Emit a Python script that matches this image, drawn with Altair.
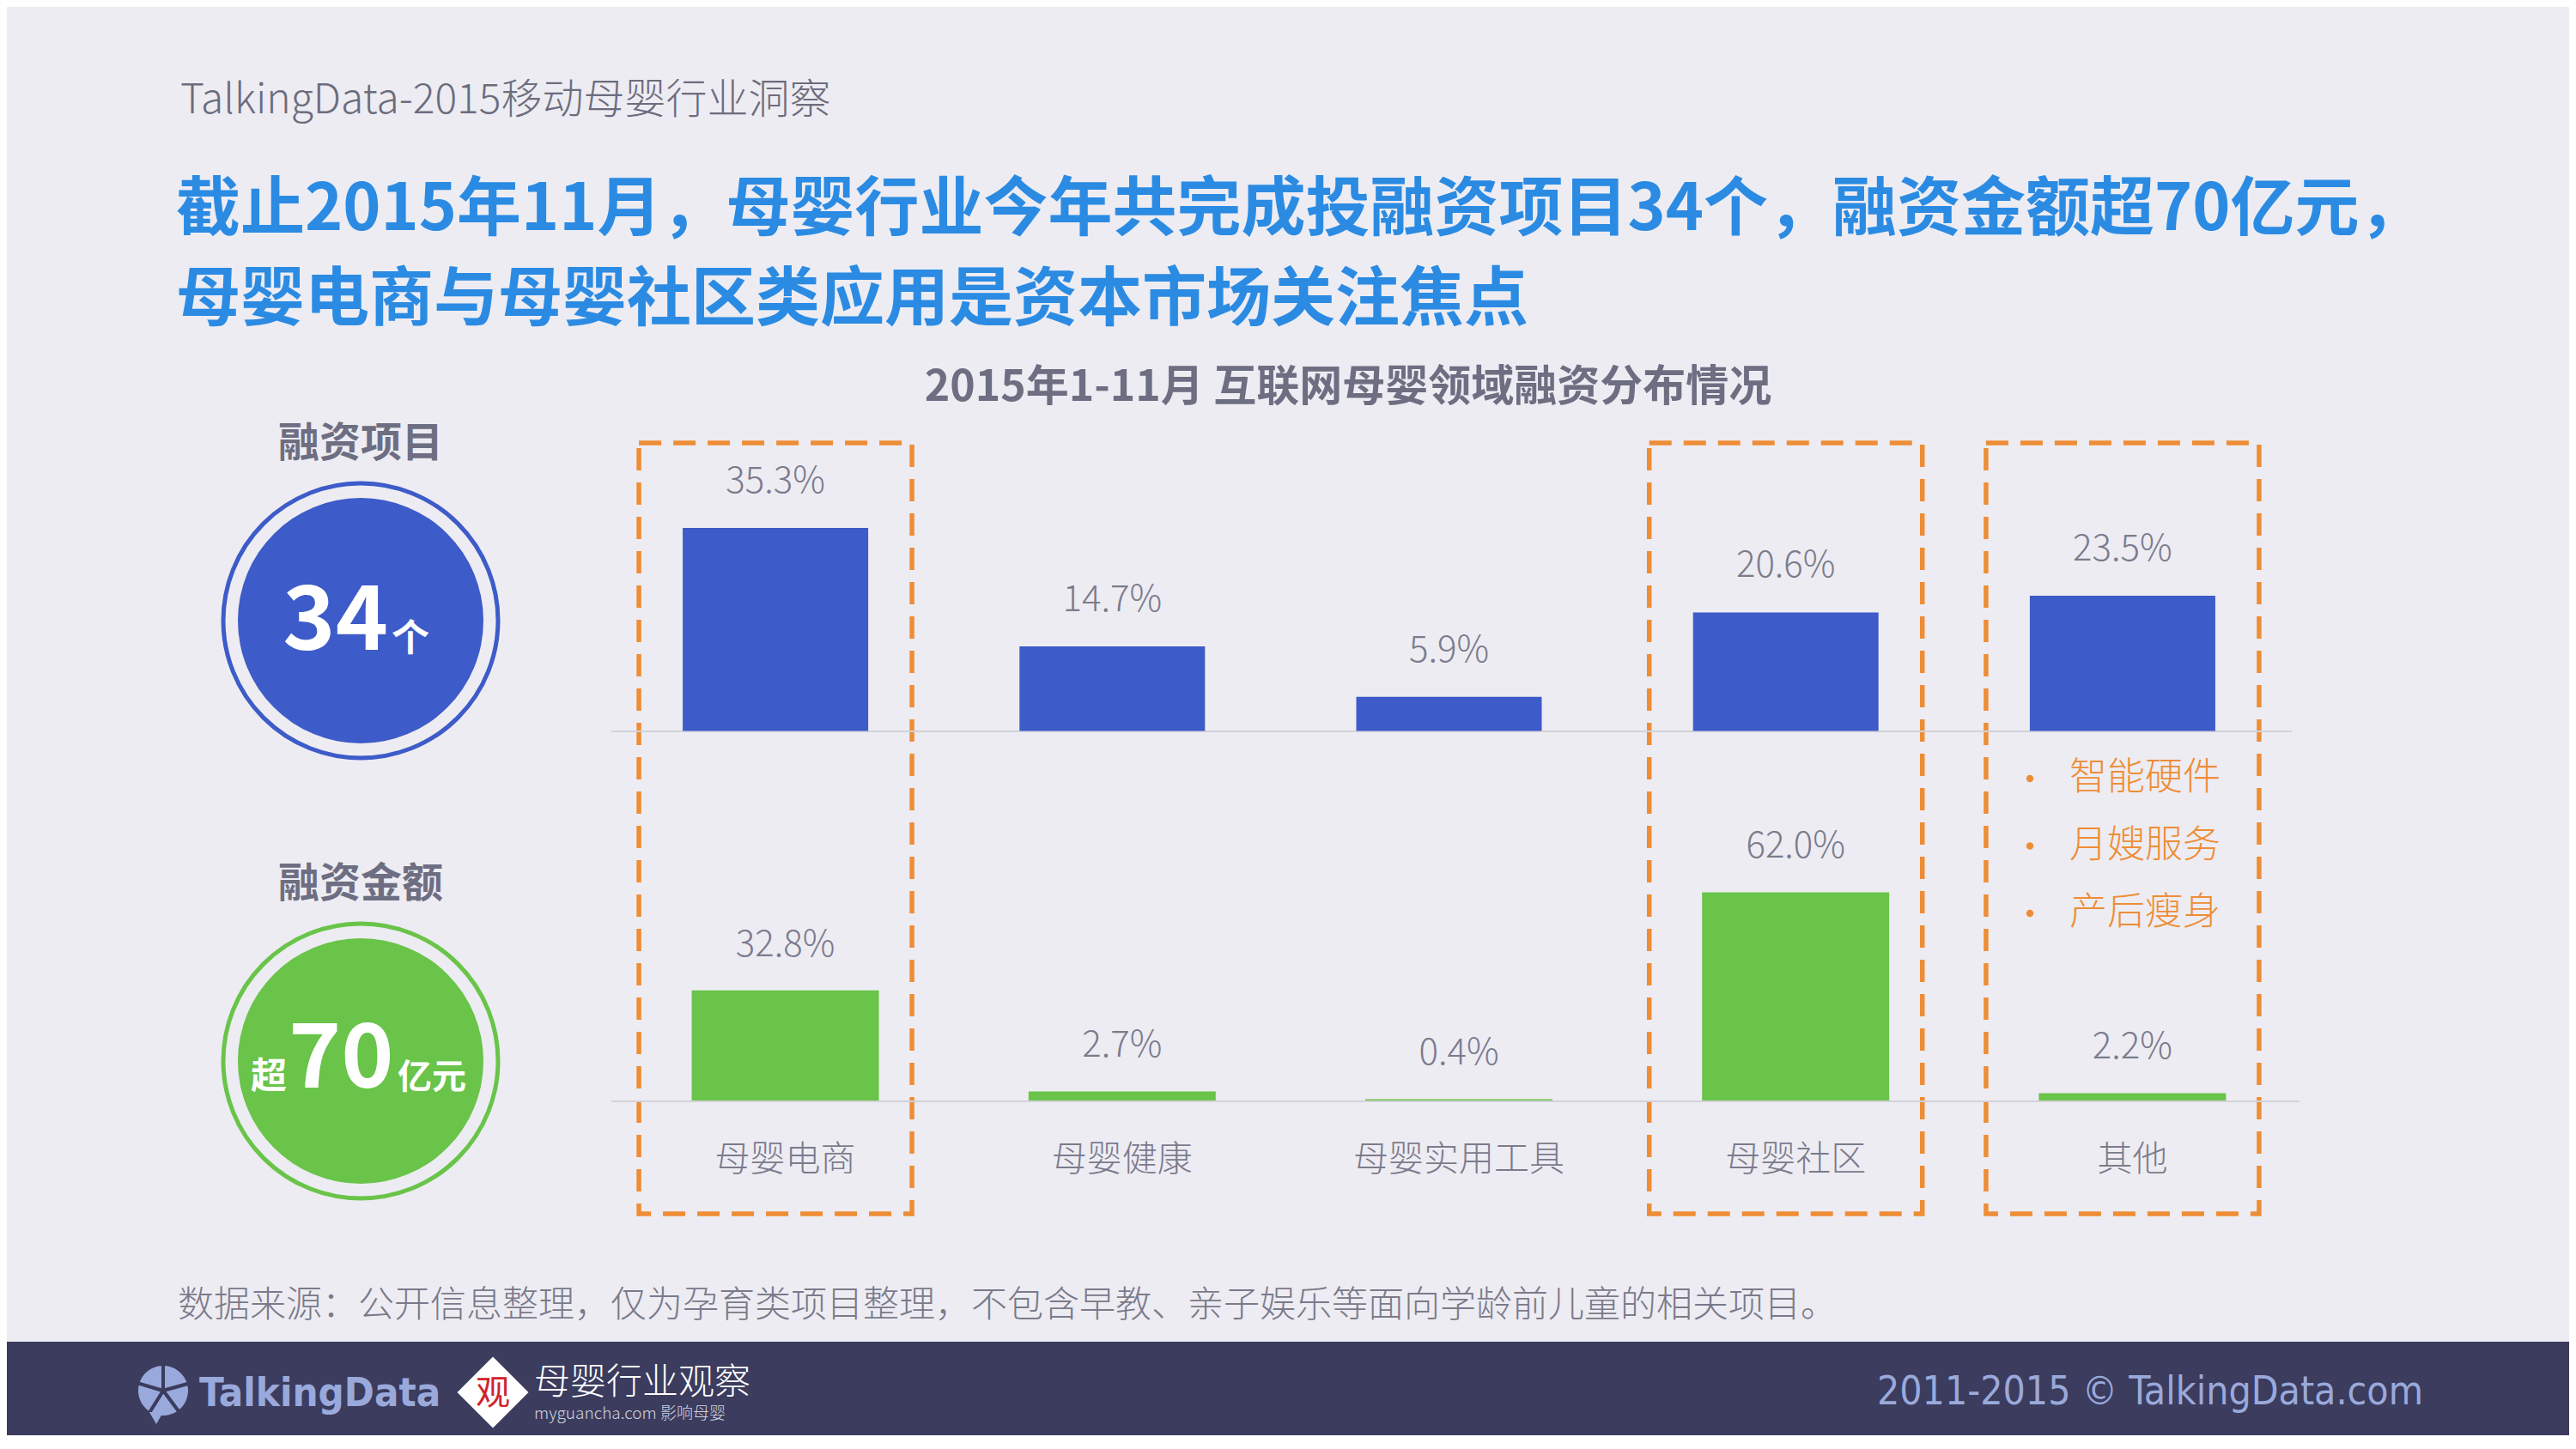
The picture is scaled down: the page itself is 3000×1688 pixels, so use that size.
import altair as alt
import pandas as pd

# ---------------- data ----------------
CATEGORIES = ["母婴电商", "母婴健康", "母婴实用工具", "母婴社区", "其他"]
PROJECT_SHARE = [35.3, 14.7, 5.9, 20.6, 23.5]   # 融资项目占比 (%)
AMOUNT_SHARE = [32.8, 2.7, 0.4, 62.0, 2.2]      # 融资金额占比 (%)
HIGHLIGHT = ["母婴电商", "母婴社区", "其他"]
OTHER_ITEMS = ["智能硬件", "月嫂服务", "产后瘦身"]
KPI_LABELS = ["融资项目", "融资金额"]
KPI_PREFIX = ["", "超"]
KPI_NUMBERS = ["34", "70"]
KPI_UNITS = ["个", "亿元"]
HEADER = "TalkingData-2015移动母婴行业洞察"
TITLE_LINES = ["截止2015年11月，母婴行业今年共完成投融资项目34个，融资金额超70亿元，",
               "母婴电商与母婴社区类应用是资本市场关注焦点"]
SUBTITLE = "2015年1-11月 互联网母婴领域融资分布情况"
SOURCE = "数据来源：公开信息整理，仅为孕育类项目整理，不包含早教、亲子娱乐等面向学龄前儿童的相关项目。"
FOOTER_RIGHT = "2011-2015 © TalkingData.com"
LOGO_TEXT = "TalkingData"
PARTNER_NAME = "母婴行业观察"
PARTNER_SUB = "myguancha.com 影响母婴"
PARTNER_MARK = "观"

# ---------------- style ----------------
BG = "#EDECF2"
BLUE = "#3D5BC9"
GREEN = "#69C449"
ORANGE = "#EE8D36"
TITLE_BLUE = "#2B8BE3"
GRAY = "#6E6E82"
LABEL_GRAY = "#7B7B8D"
FOOT = "#3B3C5E"
FOOT_TEXT = "#9AA9DB"
FONT = "Noto Sans CJK SC"
NARROW = "Liberation Sans Narrow, DejaVu Sans Condensed, Liberation Sans, sans-serif"

OFF = 8
W, H = 2984, 1664


def P(v):
    return v - OFF


def text_layer(txt, x, y, size, color, weight="normal", align="left",
               baseline="middle", font=FONT):
    return alt.Chart(pd.DataFrame({"t": [txt]})).mark_text(
        align=align, baseline=baseline, fontSize=size, color=color,
        fontWeight=weight, font=font
    ).encode(x=alt.value(P(x)), y=alt.value(P(y)), text="t:N")


one = pd.DataFrame({"k": [0]})
bars = pd.DataFrame({"cat": CATEGORIES, "proj": PROJECT_SHARE, "amt": AMOUNT_SHARE})

xscale = alt.Scale(domain=CATEGORIES, range=[P(707), P(2668)],
                   paddingInner=0.4467, paddingOuter=0.2233)
yb = alt.Scale(domain=[0, 40], range=[P(851.4), P(851.4 - 268)], nice=False)
yg = alt.Scale(domain=[0, 70], range=[P(1282), P(1282 - 273.9)], nice=False)
X = alt.X("cat:N", scale=xscale, axis=None)

layers = []

# footer band
layers.append(alt.Chart(one).mark_rect(color=FOOT).encode(
    x=alt.value(-10), x2=alt.value(W + 10), y=alt.value(P(1563)), y2=alt.value(H + 20)))

# dashed highlight boxes
layers.append(alt.Chart(pd.DataFrame({"cat": HIGHLIGHT})).mark_bar(
    width=318, fill="transparent", stroke=ORANGE, strokeWidth=5.5, strokeDash=[26, 14]
).encode(x=X, y=alt.value(P(516)), y2=alt.value(P(1414))))

# baselines
layers.append(alt.Chart(one).mark_rule(color="#D2D2DA", strokeWidth=2).encode(
    x=alt.value(P(712)), x2=alt.value(P(2669)), y=alt.value(P(852))))
layers.append(alt.Chart(one).mark_rule(color="#D2D2DA", strokeWidth=2).encode(
    x=alt.value(P(712)), x2=alt.value(P(2678)), y=alt.value(P(1283))))

# bars
layers.append(alt.Chart(bars).mark_bar(color=BLUE, width=216).encode(
    x=X, y=alt.Y("proj:Q", scale=yb, axis=None)))
layers.append(alt.Chart(bars).mark_bar(color=GREEN, width=218, xOffset=11.5).encode(
    x=X, y=alt.Y("amt:Q", scale=yg, axis=None)))

# value labels
layers.append(alt.Chart(bars).transform_calculate(
    lab="format(datum.proj, '.1f') + '%'"
).mark_text(dy=-54, baseline="middle", fontSize=42, color=LABEL_GRAY, font=FONT,
            fontWeight=300).encode(
    x=X, y=alt.Y("proj:Q", scale=yb, axis=None), text="lab:N"))
layers.append(alt.Chart(bars).transform_calculate(
    lab="format(datum.amt, '.1f') + '%'"
).mark_text(dy=-53, dx=11.5, baseline="middle", fontSize=42, color=LABEL_GRAY,
            font=FONT, fontWeight=300).encode(
    x=X, y=alt.Y("amt:Q", scale=yg, axis=None), text="lab:N"))

# category labels
layers.append(alt.Chart(bars).mark_text(
    dx=11.5, baseline="middle", fontSize=41, color=LABEL_GRAY, font=FONT, fontWeight=300
).encode(x=X, y=alt.value(P(1352)), text="cat:N"))

# bullet list for 其他
items = pd.DataFrame({"item": OTHER_ITEMS})
iy = alt.Y("item:N", axis=None,
           scale=alt.Scale(type="point", domain=OTHER_ITEMS, range=[P(907), P(1064)], padding=0))
layers.append(alt.Chart(items).mark_circle(size=70, color=ORANGE, opacity=1).encode(
    x=alt.value(P(2364)), y=iy))
layers.append(alt.Chart(items).mark_text(
    align="left", baseline="middle", fontSize=44, color=ORANGE, font=FONT, fontWeight=300
).encode(x=alt.value(P(2410)), y=iy, text="item:N"))

# KPI circles
kpi = pd.DataFrame({"label": KPI_LABELS, "prefix": KPI_PREFIX,
                    "num": KPI_NUMBERS, "unit": KPI_UNITS})
ky = alt.Y("label:N", axis=None,
           scale=alt.Scale(type="point", domain=KPI_LABELS, range=[P(723), P(1236)], padding=0))
kc = alt.Color("label:N", legend=None,
               scale=alt.Scale(domain=KPI_LABELS, range=[BLUE, GREEN]))
layers.append(alt.Chart(kpi).mark_point(
    shape="circle", filled=False, size=320 ** 2, strokeWidth=5, opacity=1
).encode(x=alt.value(P(420)), y=ky, color=kc))
layers.append(alt.Chart(kpi).mark_circle(size=286 ** 2, opacity=1).encode(
    x=alt.value(P(420)), y=ky, color=kc))
layers.append(alt.Chart(kpi).mark_text(
    dy=-205, baseline="middle", fontSize=48, fontWeight="bold", color=GRAY, font=FONT
).encode(x=alt.value(P(420)), y=ky, text="label:N"))

blue_k = alt.datum.label == KPI_LABELS[0]
green_k = alt.datum.label == KPI_LABELS[1]
layers.append(alt.Chart(kpi).transform_filter(blue_k).mark_text(
    align="right", baseline="alphabetic", dy=34, fontSize=104, fontWeight="bold",
    color="white", font=FONT).encode(x=alt.value(P(452)), y=ky, text="num:N"))
layers.append(alt.Chart(kpi).transform_filter(blue_k).mark_text(
    align="left", baseline="alphabetic", dy=36, fontSize=44, fontWeight="bold",
    color="white", font=FONT).encode(x=alt.value(P(456)), y=ky, text="unit:N"))
layers.append(alt.Chart(kpi).transform_filter(green_k).mark_text(
    align="left", baseline="alphabetic", dy=32, fontSize=42, fontWeight="bold",
    color="white", font=FONT).encode(x=alt.value(P(292)), y=ky, text="prefix:N"))
layers.append(alt.Chart(kpi).transform_filter(green_k).mark_text(
    align="left", baseline="alphabetic", dy=31, fontSize=104, fontWeight="bold",
    color="white", font=FONT).encode(x=alt.value(P(336)), y=ky, text="num:N"))
layers.append(alt.Chart(kpi).transform_filter(green_k).mark_text(
    align="left", baseline="alphabetic", dy=32, fontSize=40, fontWeight="bold",
    color="white", font=FONT).encode(x=alt.value(P(463)), y=ky, text="unit:N"))

# titles
titles = pd.DataFrame({"line": TITLE_LINES})
layers.append(alt.Chart(titles).mark_text(
    align="left", baseline="middle", fontSize=75, fontWeight="bold",
    color=TITLE_BLUE, font=FONT
).encode(x=alt.value(P(205)), text="line:N",
         y=alt.Y("line:N", axis=None,
                 scale=alt.Scale(type="point", domain=TITLE_LINES,
                                 range=[P(245), P(350)], padding=0))))
layers.append(text_layer(HEADER, 210, 118, 48, "#6C6C7E", weight=300))
layers.append(text_layer(SUBTITLE, 1570, 452, 50, GRAY, weight="bold", align="center"))
layers.append(text_layer(SOURCE, 207, 1521, 42, "#7A7A8A", weight=300))

# footer: TalkingData icon (pie-like bubble)
for a0, a1 in [(0.0, 1.3), (1.3, 2.5), (2.5, 3.7), (3.7, 5.0), (5.0, 6.283)]:
    layers.append(alt.Chart(one).mark_arc(
        theta=a0, theta2=a1, outerRadius=31, color=FOOT_TEXT, stroke=FOOT, strokeWidth=4
    ).encode(x=alt.value(P(190)), y=alt.value(P(1620))))
layers.append(alt.Chart(one).mark_point(
    shape="triangle-down", filled=True, size=260, color=FOOT_TEXT, opacity=1
).encode(x=alt.value(P(182)), y=alt.value(P(1652))))
layers.append(text_layer(LOGO_TEXT, 232, 1624, 47, FOOT_TEXT, weight="bold", font=NARROW))

# partner logo
layers.append(alt.Chart(one).mark_point(
    shape="diamond", filled=True, size=83 ** 2, color="white", opacity=1
).encode(x=alt.value(P(574)), y=alt.value(P(1622))))
layers.append(text_layer(PARTNER_MARK, 574, 1624, 40, "#D1232A", align="center"))
layers.append(text_layer(PARTNER_NAME, 622, 1611, 42, "white", weight=300))
layers.append(text_layer(PARTNER_SUB, 622, 1647, 19, "#D4D4DE", weight=300))

layers.append(text_layer(FOOTER_RIGHT, 2822, 1622, 46, FOOT_TEXT, align="right", font=NARROW))

chart = alt.layer(*layers).resolve_scale(y="independent").properties(
    width=W, height=H, padding=0, autosize="none", background=BG
).configure_view(stroke=None)

chart.save("out.html", embed_options={"renderer": "svg", "actions": False})
